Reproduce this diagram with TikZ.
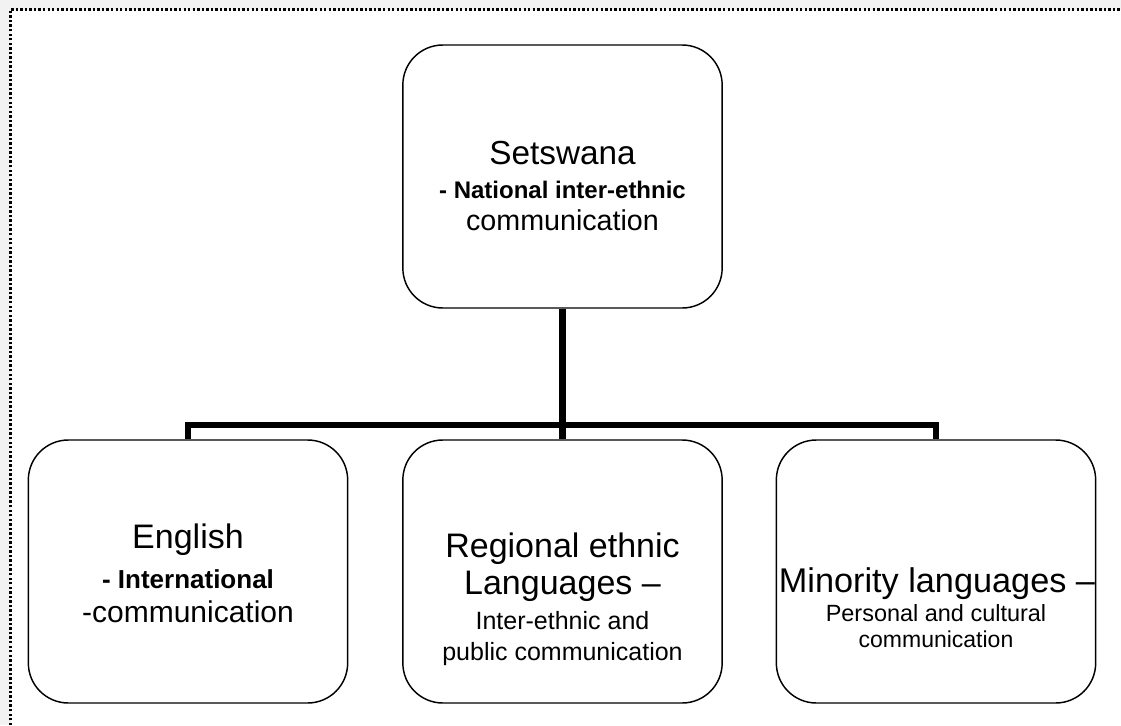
\documentclass[tikz,border=0pt]{standalone}
\usepackage{fontspec}
\setmainfont{Liberation Sans}
\begin{document}
\begin{tikzpicture}[x=0.75pt,y=-0.75pt,
  lbox/.style={draw=black, line width=1.1pt, rounded corners=30pt,
    minimum width=239.5pt, minimum height=197.25pt, inner sep=0pt},
  txt/.style={inner sep=0pt, anchor=base},
  tree/.style={line width=4.9pt, line join=miter},
  frame/.style={line width=1.9pt, dash pattern=on 1.8pt off 1.6pt}]
\definecolor{pagegray}{RGB}{242,242,242}
\useasboundingbox (0,0) rectangle (1121,725);
\fill[white] (0,0) rectangle (1121,725);
\fill[pagegray] (0,0) rectangle (1121,9.5);
\fill[pagegray] (0,0) rectangle (10.5,725);
\draw[frame] (10.5,725) -- (10.5,9.5) -- (1121,9.5);

% language boxes
\node[lbox] (nat) at (562.5,176.5) {};
\node[lbox] (eng) at (188,571.5) {};
\node[lbox] (reg) at (562.5,571.5) {};
\node[lbox] (min) at (936,571.5) {};

% connectors
\coordinate (bus) at (562.5,425);
\draw[tree] (nat.south) -- (reg.north);
\draw[tree] (eng.north) |- (bus) -| (min.north);

% Setswana
\node[txt, font=\fontsize{25}{25}\selectfont] (n1) at (562.5,164) {Setswana};
\node[txt, font=\fontsize{18}{18}\selectfont\bfseries] (n2) at (562.5,198) {- National inter-ethnic};
\node[txt, font=\fontsize{21.5}{21.5}\selectfont] (n3) at (562.5,230) {communication};

% English
\node[txt, font=\fontsize{25.5}{25.5}\selectfont] (e1) at (188,548) {English};
\node[txt, font=\fontsize{19.5}{19.5}\selectfont\bfseries] (e2) at (188,588) {- International};
\node[txt, font=\fontsize{22.5}{22.5}\selectfont] (e3) at (188,622) {-communication};

% Regional ethnic languages
\node[txt, font=\fontsize{25.5}{25.5}\selectfont] (r1) at (562.5,557) {Regional ethnic};
\node[txt, font=\fontsize{25.5}{25.5}\selectfont] (r2) at (562.5,594) {Languages –};
\node[txt, font=\fontsize{18.75}{18.75}\selectfont] (r3) at (562.5,629) {Inter-ethnic and};
\node[txt, font=\fontsize{18.75}{18.75}\selectfont] (r4) at (562.5,660) {public communication};

% Minority languages
\node[txt, font=\fontsize{25.7}{25.7}\selectfont] (m1) at (937,592) {Minority languages –};
\node[txt, font=\fontsize{17.6}{17.6}\selectfont] (m2) at (936,621) {Personal and cultural};
\node[txt, font=\fontsize{17.25}{17.25}\selectfont] (m3) at (936,647) {communication};
\end{tikzpicture}
\end{document}
